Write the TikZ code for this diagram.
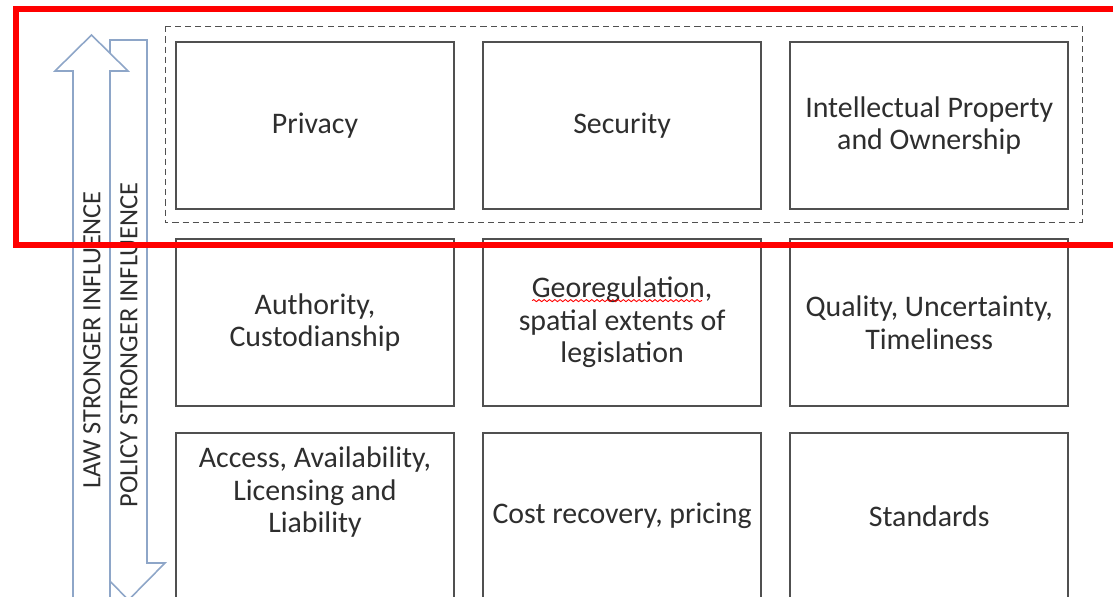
\documentclass[tikz,border=0pt]{standalone}
\usepackage{fontspec}
\setmainfont{Carlito}
\usetikzlibrary{positioning, decorations.pathmorphing}
\definecolor{boxline}{HTML}{505050}
\definecolor{arrowline}{HTML}{8EA6C8}
\definecolor{inktext}{HTML}{2E2E2E}

\begin{document}
\begin{tikzpicture}[x=0.02cm, y=-0.02cm, node distance=0.55cm,
    cell/.style={shape=rectangle, draw=boxline, line width=0.95pt, fill=white, minimum width=5.56cm, minimum height=3.34cm, align=center, text=inktext, font=\fontsize{17}{18.5}\selectfont, inner sep=0pt},
    celltext/.style={align=center, text=inktext, font=\fontsize{17}{18.5}\selectfont},
    bigarrow/.style={draw=arrowline, line width=0.9pt, fill=white, line join=miter},
    arrowtext/.style={rotate=90, text=inktext, font=\fontsize{15}{17}\selectfont}]

    \useasboundingbox (0,0) rectangle (1113,597);

    % influence arrows
    \draw[bigarrow] (110,40) -- (147,40) -- (147,563) -- (165,563) -- (128.5,600) -- (92,563) -- (110,563) -- cycle;
    \draw[bigarrow] (91.5,35) -- (128,71) -- (110,71) -- (110,640) -- (73,640) -- (73,71) -- (55,71) -- cycle;
    \node[arrowtext] (law) at (92,340) {LAW STRONGER INFLUENCE};
    \node[arrowtext] (policy) at (129,345) {POLICY STRONGER INFLUENCE};

    % grid of issues
    \node[cell] (privacy) at (315,125.5) {Privacy};
    \node[cell, right=of privacy] (security) {Security};
    \node[cell, right=of security] (ipr) {Intellectual Property\\and Ownership};
    \node[cell, below=0.57cm of privacy] (authority) {Authority,\\Custodianship};
    \node[cell, right=of authority] (georeg) {Georegulation,\\spatial extents of\\legislation};
    \node[cell, right=of georeg] (quality) {Quality, Uncertainty,\\Timeliness};
    \node[cell, below=0.5cm of authority] (access) {};
    \node[cell, right=of access] (cost) {Cost recovery, pricing};
    \node[cell, right=of cost] (standards) {Standards};
    \node[celltext] (accesstext) at ([yshift=0.48cm]access.center) {Access, Availability,\\Licensing and\\Liability};

    \draw[red, line width=0.5pt, decorate, decoration={snake, amplitude=0.6pt, segment length=3pt}]
        ([shift={(-90,-22)}]georeg.center) -- ([shift={(80,-22)}]georeg.center);

    % top row group
    \draw[boxline, line width=0.6pt, dash pattern=on 3.5pt off 2.3pt]
        ([shift={(-10,-15)}]privacy.north west) rectangle ([shift={(13,13)}]ipr.south east);
    \draw[red, line width=3.4pt] (1200,245) -- (16,245) -- (16,9) -- (1200,9);
\end{tikzpicture}
\end{document}
